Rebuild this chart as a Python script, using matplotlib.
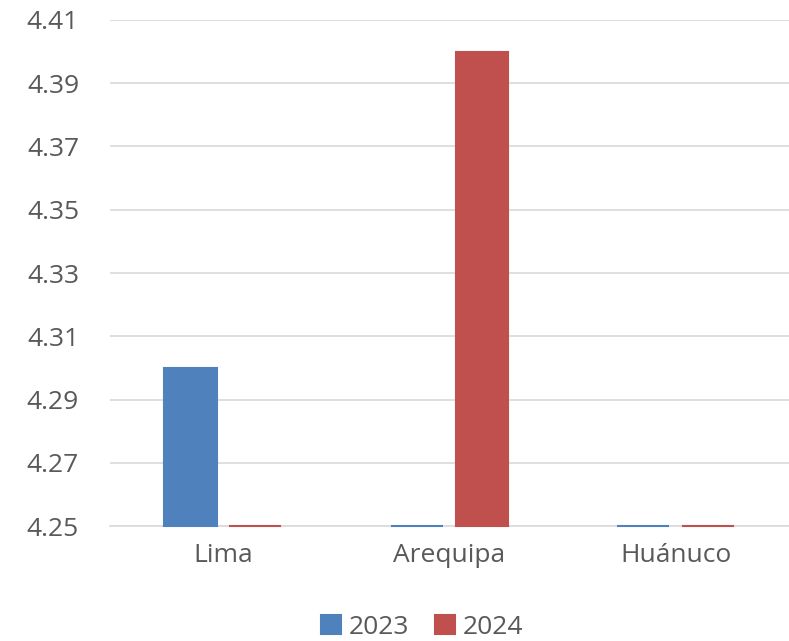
import numpy as np
import matplotlib.pyplot as plt

# data
cities = ["Lima", "Arequipa", "Huánuco"]
val_2023 = [4.30, 4.25, 4.25]
val_2024 = [4.25, 4.40, 4.25]
yticks = [4.25, 4.27, 4.29, 4.31, 4.33, 4.35, 4.37, 4.39, 4.41]

plt.rcParams['font.family'] = ['Open Sans', 'DejaVu Sans']
txt = '#595959'

fig = plt.figure(figsize=(7.89, 6.41), dpi=100)
ax = fig.add_axes([0.139, 0.179, 0.861, 0.79])

x = np.arange(len(cities))
w = 0.23
base = yticks[0]
h23 = [v - base for v in val_2023]
h24 = [v - base for v in val_2024]
ax.bar(x - 0.143, h23, w, bottom=base, color='#4F81BD', edgecolor='#4F81BD',
       linewidth=1.5, label='2023', zorder=3, clip_on=False)
ax.bar(x + 0.143, h24, w, bottom=base, color='#C0504D', edgecolor='#C0504D',
       linewidth=1.5, label='2024', zorder=3, clip_on=False)

ax.set_xlim(-0.5, 2.5)
ax.set_ylim(yticks[0], yticks[-1])
ax.set_yticks(yticks)
ax.set_yticklabels([f"{t:.2f}" for t in yticks])
ax.set_xticks(x)
ax.set_xticklabels(cities)
ax.grid(axis='y', color='#D9D9D9', linewidth=1.2, zorder=0)
for s in ['top', 'right', 'left']:
    ax.spines[s].set_visible(False)
ax.spines['bottom'].set_color('#D9D9D9')
ax.spines['bottom'].set_linewidth(1.2)
ax.tick_params(axis='both', length=0, labelsize=19, colors=txt)
ax.tick_params(axis='y', pad=22)
ax.tick_params(axis='x', pad=12)

fig.legend(loc='lower center', ncol=2, frameon=False, fontsize=19,
           labelcolor=txt, handlelength=0.75, handleheight=0.75,
           handletextpad=0.3, columnspacing=1.0, bbox_to_anchor=(0.535, -0.035))

plt.savefig('out.png', dpi=100)
